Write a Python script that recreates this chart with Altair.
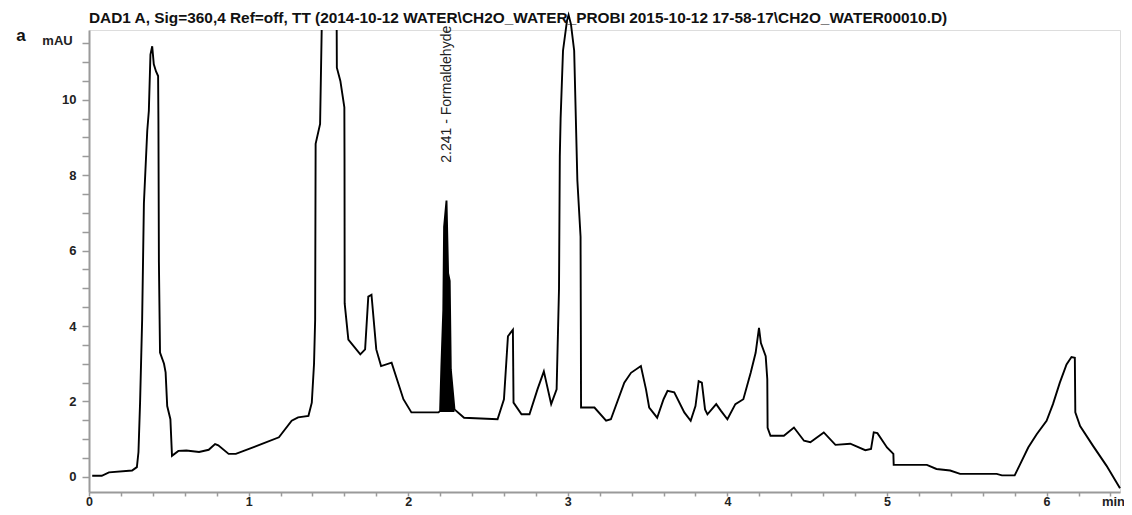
import altair as alt
import pandas as pd

TITLE = "DAD1 A, Sig=360,4 Ref=off, TT (2014-10-12 WATER\\CH2O_WATER_PROBI 2015-10-12 17-58-17\\CH2O_WATER00010.D)"

# Segment 1: retention time (min) and signal (mAU) up to the off-scale solvent peak
seg1_t = [0.02, 0.08, 0.125, 0.27, 0.30, 0.31, 0.32, 0.333, 0.344, 0.365, 0.375, 0.385, 0.396,
          0.406, 0.42, 0.433, 0.435, 0.438, 0.445, 0.47, 0.48, 0.49, 0.51, 0.52, 0.56, 0.61,
          0.69, 0.75, 0.79, 0.81, 0.875, 0.92, 1.08, 1.19, 1.27, 1.31, 1.375, 1.396, 1.41,
          1.417, 1.42, 1.448, 1.458]
seg1_y = [0.03, 0.03, 0.12, 0.17, 0.26, 0.66, 1.97, 4.17, 7.25, 9.18, 9.71, 11.2, 11.42,
          10.94, 10.75, 10.63, 9.45, 5.7, 3.3, 3.0, 2.77, 1.88, 1.53, 0.56, 0.69, 0.70,
          0.66, 0.72, 0.87, 0.84, 0.61, 0.61, 0.87, 1.05, 1.49, 1.58, 1.62, 1.97, 3.0,
          4.17, 8.83, 9.36, 11.85]

# Segment 2: after the off-scale peak to the end of the run
seg2_t = [1.552, 1.553, 1.575, 1.60, 1.601, 1.602, 1.625, 1.70, 1.73, 1.75, 1.77, 1.80, 1.83,
          1.896, 1.97, 2.02, 2.19, 2.20, 2.208, 2.22, 2.225, 2.24, 2.25, 2.26, 2.267, 2.29,
          2.35, 2.56, 2.60, 2.625, 2.656, 2.66, 2.71, 2.76, 2.81, 2.85, 2.896, 2.93, 2.945,
          2.95, 2.955, 2.97, 2.995, 3.005, 3.02, 3.04, 3.06, 3.08, 3.082, 3.083, 3.167,
          3.24, 3.27, 3.354, 3.396, 3.458, 3.49, 3.51, 3.56, 3.60, 3.625, 3.667, 3.73, 3.77,
          3.80, 3.82, 3.84, 3.86, 3.875, 3.93, 3.96, 4.0, 4.05, 4.10, 4.146, 4.177, 4.198,
          4.21, 4.24, 4.25, 4.252, 4.27, 4.354, 4.417, 4.48, 4.52, 4.604, 4.677, 4.77,
          4.864, 4.90, 4.917, 4.94, 5.0, 5.04, 5.042, 5.25, 5.31, 5.396, 5.458, 5.6875,
          5.72, 5.80, 5.83, 5.885, 5.938, 6.0, 6.04, 6.083, 6.125, 6.156, 6.177, 6.18,
          6.21, 6.29, 6.375, 6.46]
seg2_y = [11.85, 10.85, 10.5, 9.8, 8.4, 4.6, 3.64, 3.25, 3.38, 4.78, 4.83, 3.38, 2.94,
          3.03, 2.06, 1.71, 1.71, 1.75, 2.94, 4.43, 6.63, 7.33, 5.4, 5.2, 2.85, 1.79,
          1.57, 1.53, 2.06, 3.73, 3.9, 1.97, 1.66, 1.66, 2.32, 2.8, 1.93, 2.32, 5.0,
          8.5, 9.5, 11.3, 12.1, 12.25, 12.0, 11.3, 7.86, 6.37, 3.64, 1.84, 1.84,
          1.49, 1.53, 2.5, 2.76, 2.94, 2.32, 1.84, 1.57, 2.06, 2.28, 2.24, 1.71, 1.49,
          1.88, 2.54, 2.5, 1.79, 1.66, 1.93, 1.75, 1.53, 1.93, 2.06, 2.76, 3.29, 3.95,
          3.55, 3.2, 2.59, 1.3, 1.09, 1.09, 1.31, 0.96, 0.92, 1.18, 0.85, 0.88,
          0.71, 0.74, 1.18, 1.16, 0.78, 0.61, 0.32, 0.32, 0.21, 0.17, 0.08, 0.08,
          0.04, 0.04, 0.3, 0.78, 1.13, 1.49, 1.93, 2.5, 2.98, 3.18, 3.16, 1.71,
          1.35, 0.83, 0.3, -0.3]

# Integrated formaldehyde peak
peak_start, peak_end, peak_base = 2.19, 2.29, 1.72
peak_label = "2.241 - Formaldehyde"
peak_rt = 2.241
peak_label_y = 8.33

x_ticks = [round(i * 0.2, 1) for i in range(33)]
y_ticks = [i * 0.5 for i in range(24)]

rows = []
for i, (t, y) in enumerate(zip(seg1_t, seg1_y)):
    rows.append({"seg": "a", "i": i, "t": t, "y": y})
for i, (t, y) in enumerate(zip(seg2_t, seg2_y)):
    rows.append({"seg": "b", "i": i, "t": t, "y": y})
df = pd.DataFrame(rows)

peak_df = pd.DataFrame([{"t": t, "y": y, "base": peak_base}
                        for t, y in zip(seg2_t, seg2_y) if peak_start <= t <= peak_end])
ann_df = pd.DataFrame([{"t": peak_rt, "y": peak_label_y, "label": peak_label}])

FONT = "Liberation Sans"

x_enc = alt.X("t:Q", scale=alt.Scale(domain=[0, 6.46], nice=False, zero=False),
              axis=alt.Axis(values=x_ticks,
                            labelExpr="abs(datum.value - round(datum.value)) < 0.001 ? format(datum.value, 'd') : ''",
                            tickSize=4, labelPadding=9, labelBaseline="alphabetic",
                            labelFlush=False, labelOverlap=False,
                            domainColor="#9a9a9a", domainWidth=2, tickColor="#9a9a9a", tickWidth=1.5,
                            labelFont=FONT, labelFontSize=12.5, labelFontWeight="bold", labelColor="#222",
                            grid=False, title="min", titleX=1024, titleY=13, titleAlign="center",
                            titleBaseline="alphabetic", titleFont=FONT, titleFontSize=13,
                            titleFontWeight="bold", titleColor="#222"))
y_enc = alt.Y("y:Q", scale=alt.Scale(domain=[-0.4, 11.85], nice=False, zero=False),
              axis=alt.Axis(values=y_ticks,
                            labelExpr="datum.value % 2 == 0 ? format(datum.value, 'd') : ''",
                            tickSize=7, labelPadding=6, labelOverlap=False,
                            domainColor="#9a9a9a", domainWidth=2, tickColor="#9a9a9a", tickWidth=1.5,
                            labelFont=FONT, labelFontSize=13, labelFontWeight="bold", labelColor="#222",
                            grid=False, title="mAU", titleAngle=0, titleX=-32, titleY=10,
                            titleAlign="center", titleBaseline="middle", titleFont=FONT,
                            titleFontSize=13, titleFontWeight="bold", titleColor="#222"))

area = alt.Chart(peak_df).mark_area(color="black", opacity=1).encode(
    x=x_enc, y=y_enc, y2="base:Q")

line = alt.Chart(df).mark_line(color="black", strokeWidth=1.9).encode(
    x=x_enc, y=y_enc, detail="seg:N", order="i:Q")

ann = alt.Chart(ann_df).mark_text(
    angle=270, align="left", baseline="middle", font=FONT, fontSize=14, color="#222"
).encode(x=x_enc, y=y_enc, text="label:N")

panel = alt.Chart(pd.DataFrame([{"label": "a"}])).mark_text(
    align="center", baseline="middle", font=FONT, fontSize=17, fontWeight="bold", color="#111"
).encode(x=alt.value(-68), y=alt.value(6), text="label:N")

chart = alt.layer(area, line, ann, panel).properties(
    width=1031, height=462,
    autosize="none",
    padding={"left": 81, "top": 22, "right": 4, "bottom": 15},
    title=alt.TitleParams(text=TITLE, anchor="start", frame="group", font=FONT, fontSize=15.4,
                          fontWeight="bold", color="#111", offset=0, dy=15),
).configure_view(stroke=None).configure_axis(labelOverlap=False).configure(background="white")

chart.save("out.html", embed_options={"renderer": "svg", "actions": False})
